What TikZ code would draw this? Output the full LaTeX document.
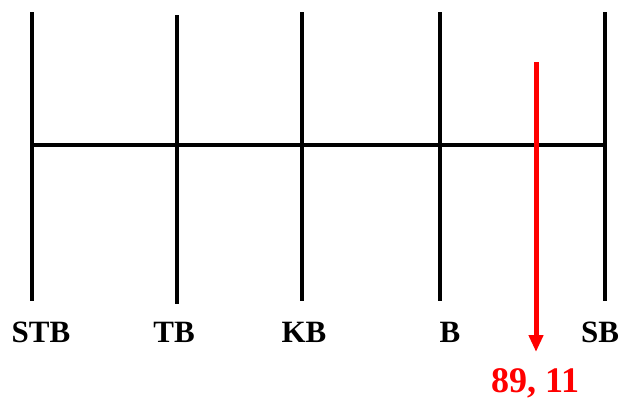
\documentclass[tikz,border=0pt]{standalone}
\usepackage{fontspec}
\setmainfont{Liberation Serif}
\usetikzlibrary{arrows.meta}
\tikzset{
  bar/.style={line width=4pt, black},
  lbl/.style={font=\fontsize{31}{31}\selectfont\bfseries, inner sep=0pt, anchor=base},
  redarrow/.style={line width=5pt, red, -{Triangle[length=17pt,width=14pt]}},
  redlbl/.style={font=\fontsize{36}{36}\selectfont\bfseries, text=red, inner sep=0pt, anchor=base}
}
\begin{document}
\begin{tikzpicture}[x=1pt,y=-1pt]
\useasboundingbox (0,0) rectangle (620,399);
% vertical bars
\coordinate (t1) at (32,12);  \coordinate (b1) at (32,301);
\coordinate (t2) at (177,15); \coordinate (b2) at (177,304);
\coordinate (t3) at (302,12); \coordinate (b3) at (302,301);
\coordinate (t4) at (440,12); \coordinate (b4) at (440,301);
\coordinate (t5) at (605,12); \coordinate (b5) at (605,301);
\coordinate (hl) at (32,145); \coordinate (hr) at (605,145);
\draw[bar] (t1) -- (b1);
\draw[bar] (t2) -- (b2);
\draw[bar] (t3) -- (b3);
\draw[bar] (t4) -- (b4);
\draw[bar] (t5) -- (b5);
\draw[bar] (hl) -- (hr);
% red arrow
\coordinate (rt) at (536,62);
\coordinate (rb) at (536,352);
\draw[redarrow] (rt) -- (rb);
% labels
\node[lbl] (l1) at (41,342) {STB};
\node[lbl] (l2) at (174,342) {TB};
\node[lbl] (l3) at (304,342) {KB};
\node[lbl] (l4) at (450,342) {B};
\node[lbl] (l5) at (600,342) {SB};
\node[redlbl] (val) at (535,392) {89, 11};
\end{tikzpicture}
\end{document}
